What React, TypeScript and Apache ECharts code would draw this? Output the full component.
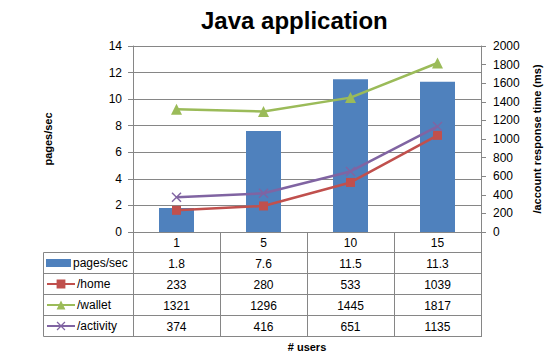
import React, { useEffect, useRef } from "react";
import * as echarts from "echarts";

const categories = ["1", "5", "10", "15"];
const pagesPerSec = [1.8, 7.6, 11.5, 11.3];
const home = [233, 280, 533, 1039];
const wallet = [1321, 1296, 1445, 1817];
const activity = [374, 416, 651, 1135];

const leftMin = 0, leftMax = 14, leftInterval = 2;
const rightMin = 0, rightMax = 2000, rightInterval = 200;

const seriesNames = ["pages/sec", "/home", "/wallet", "/activity"];
const colors = ["#4F81BD", "#C0504D", "#9BBB59", "#8064A2"];

const FONT = "Liberation Sans, Arial, sans-serif";
const GRID = { left: 133, right: 68, top: 46, bottom: 131 };
const ROW_H = 21;
const GRAY = "#868686";
const X_SYMBOL = "path://M0,1 L1,0 L5,4 L9,0 L10,1 L6,5 L10,9 L9,10 L5,6 L1,10 L0,9 L4,5 Z";

export default function App() {
  const ref = useRef<HTMLDivElement>(null);
  useEffect(() => {
    const el = ref.current!;
    const chart = echarts.init(el, null, { renderer: "svg" });
    const W = 550, H = 363;
    const axisY = H - GRID.bottom; // 232
    const plotRight = W - GRID.right; // 482
    const tableLeft = 43.5;
    const rows = [pagesPerSec, home, wallet, activity];

    const rowAxes = rows.map((vals, k) => ({
      type: "category",
      data: categories,
      position: "bottom",
      offset: ROW_H * (k + 1),
      axisLine: { show: false },
      axisTick: { show: false },
      splitLine: { show: false },
      axisLabel: {
        margin: 5,
        color: "#000",
        fontSize: 12,
        fontFamily: FONT,
        formatter: (_v: string, i: number) => String(vals[i]),
      },
    }));

    const hLines = [] as any[];
    for (let k = 0; k < 5; k++) {
      const y = axisY + 20.5 + ROW_H * k;
      hLines.push({
        type: "line",
        shape: { x1: tableLeft, y1: y, x2: plotRight, y2: y },
        style: { stroke: GRAY, lineWidth: 1 },
      });
    }
    hLines.push({
      type: "line",
      shape: { x1: tableLeft, y1: axisY + 20.5, x2: tableLeft, y2: axisY + 20.5 + ROW_H * 4 },
      style: { stroke: GRAY, lineWidth: 1 },
    });

    const legends = seriesNames.map((name, k) => ({
      data: [name],
      left: 46,
      top: axisY + 31 + ROW_H * k - 7,
      padding: 0,
      itemWidth: k === 0 ? 25 : 28,
      itemHeight: k === 0 ? 8 : 11,
      icon: k === 0 ? "rect" : undefined,
      itemGap: 0,
      selectedMode: false,
      textStyle: { fontSize: 12, fontFamily: FONT, color: "#000", lineHeight: 14, padding: [0, 0, 0, -3] },
    }));

    chart.setOption({
      animation: false,
      backgroundColor: "#fff",
      title: {
        text: "Java application",
        left: 196,
        top: 3,
        textStyle: { fontSize: 24, fontWeight: "bold", fontFamily: FONT, color: "#000" },
      },
      grid: GRID,
      legend: legends,
      xAxis: [
        {
          type: "category",
          data: categories,
          name: "# users",
          nameLocation: "middle",
          nameGap: 109,
          nameTextStyle: { fontSize: 11, fontWeight: "bold", fontFamily: FONT, color: "#000" },
          axisLine: { show: true, lineStyle: { color: GRAY, width: 1 } },
          axisTick: { show: true, length: ROW_H * 5 - 1, lineStyle: { color: GRAY, width: 1 } },
          axisLabel: { margin: 5, color: "#000", fontSize: 12, fontFamily: FONT },
        },
        ...rowAxes,
      ],
      yAxis: [
        {
          type: "value",
          min: leftMin,
          max: leftMax,
          interval: leftInterval,
          position: "left",
          name: "pages/sec",
          nameLocation: "middle",
          nameGap: 80,
          nameRotate: 90,
          nameTextStyle: { fontSize: 11, fontWeight: "bold", fontFamily: FONT, color: "#000" },
          axisLine: { show: true, lineStyle: { color: GRAY } },
          axisTick: { show: true, length: 5, lineStyle: { color: GRAY } },
          splitLine: { show: true, lineStyle: { color: GRAY, width: 1 } },
          axisLabel: { margin: 11, color: "#000", fontSize: 12, fontFamily: FONT },
        },
        {
          type: "value",
          min: rightMin,
          max: rightMax,
          interval: rightInterval,
          position: "right",
          name: "/account response time (ms)",
          nameLocation: "middle",
          nameGap: 50,
          nameRotate: 90,
          nameTextStyle: { fontSize: 11, fontWeight: "bold", fontFamily: FONT, color: "#000" },
          axisLine: { show: true, lineStyle: { color: GRAY } },
          axisTick: { show: true, length: 5, lineStyle: { color: GRAY } },
          splitLine: { show: false },
          axisLabel: {
            margin: 12,
            color: "#000",
            fontSize: 12,
            fontFamily: FONT,
            formatter: (v: number) => String(v),
          },
        },
      ],
      series: [
        {
          name: seriesNames[0],
          type: "bar",
          yAxisIndex: 0,
          barWidth: 35,
          data: pagesPerSec,
          itemStyle: { color: colors[0] },
        },
        {
          name: seriesNames[1],
          type: "line",
          yAxisIndex: 1,
          data: home,
          symbol: "rect",
          symbolSize: 9,
          lineStyle: { color: colors[1], width: 2.5 },
          itemStyle: { color: colors[1] },
        },
        {
          name: seriesNames[2],
          type: "line",
          yAxisIndex: 1,
          data: wallet,
          symbol: "triangle",
          symbolSize: 11,
          lineStyle: { color: colors[2], width: 2.5 },
          itemStyle: { color: colors[2] },
        },
        {
          name: seriesNames[3],
          type: "line",
          yAxisIndex: 1,
          data: activity,
          symbol: X_SYMBOL,
          symbolSize: 10,
          lineStyle: { color: colors[3], width: 2.5 },
          itemStyle: { color: colors[3] },
        },
      ],
      graphic: hLines,
    });
    return () => chart.dispose();
  }, []);
  return <div ref={ref} style={{ width: 550, height: 363, position: "absolute", left: 0, top: 0 }} />;
}
